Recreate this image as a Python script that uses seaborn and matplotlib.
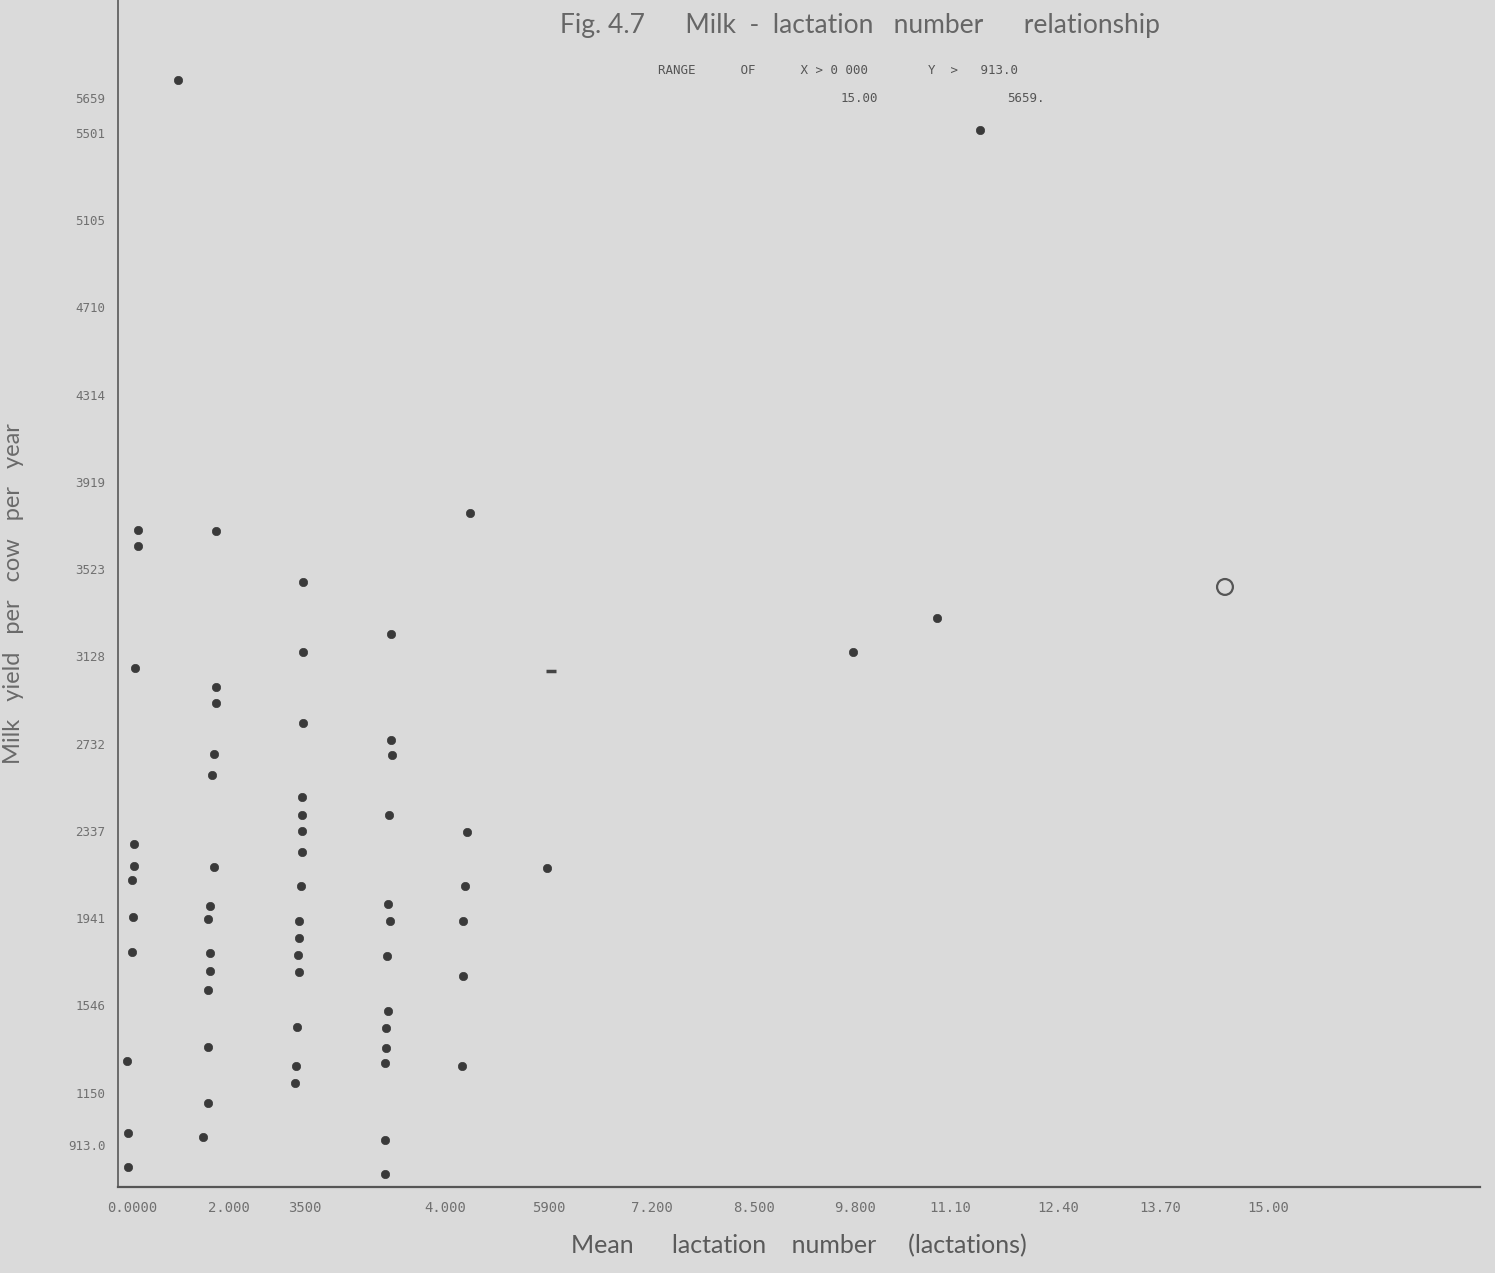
import pandas as pd
import numpy as np
import matplotlib
matplotlib.use('Agg')
import matplotlib.pyplot as plt
import seaborn as sns

sns.set_theme(style='white')
plt.rcParams['font.family'] = ['Lato', 'DejaVu Sans']

# ---- data ----
lact_col1 = [0.72, 0.72, 0.68, 0.67, 0.67, 0.64, 0.66, 0.64, 0.58, 0.59, 0.59]
milk_col1 = [3701, 3629, 3076, 2278, 2178, 2115, 1947, 1788, 1294, 967, 813]

lact_col2 = [1.70, 1.70, 1.70, 1.68, 1.65, 1.68, 1.63, 1.60, 1.63, 1.63, 1.60, 1.60, 1.60, 1.54]
milk_col2 = [3697, 2990, 2917, 2686, 2591, 2173, 1997, 1938, 1784, 1702, 1616, 1357, 1103, 949]

lact_col3 = [2.80, 2.80, 2.80, 2.79, 2.79, 2.79, 2.79, 2.78, 2.75, 2.75, 2.74, 2.75, 2.73, 2.71, 2.70]
milk_col3 = [3466, 3148, 2826, 2491, 2409, 2337, 2241, 2087, 1929, 1852, 1774, 1697, 1448, 1271, 1194]

lact_col4 = [3.91, 3.91, 3.93, 3.89, 3.88, 3.90, 3.86, 3.88, 3.85, 3.85, 3.84, 3.84, 3.83]
milk_col4 = [3230, 2749, 2681, 2409, 2006, 1929, 1770, 1521, 1443, 1353, 1285, 936, 782]

lact_col5 = [4.91, 4.87, 4.84, 4.82, 4.82, 4.81]
milk_col5 = [3779, 2332, 2087, 1929, 1679, 1271]

lact_rest = [5.88, 9.75, 10.80, 11.35, 1.22]
milk_rest = [2169, 3148, 3302, 5515, 5742]

# odd marks: dash at ~5.9 and the open circle
dash_x, dash_y = [5.93], [3062]
circle_x, circle_y = [14.44], [3443]

x_ticks = [0.64, 1.86, 2.83, 4.60, 5.90, 7.20, 8.50, 9.77, 10.97, 12.33, 13.62, 14.99]
x_labels = ['0.0000', '2.000', '3500', '4.000', '5900', '7.200', '8.500',
            '9.800', '11.10', '12.40', '13.70', '15.00']
y_ticks = [913, 1150, 1546, 1941, 2337, 2732, 3128, 3523, 3919, 4314, 4710, 5105, 5501, 5659]
y_labels = ['913.0', '1150', '1546', '1941', '2337', '2732', '3128', '3523',
            '3919', '4314', '4710', '5105', '5501', '5659']

df = pd.DataFrame({
    'lact': lact_col1 + lact_col2 + lact_col3 + lact_col4 + lact_col5 + lact_rest,
    'milk': milk_col1 + milk_col2 + milk_col3 + milk_col4 + milk_col5 + milk_rest,
})

# ---- figure ----
bg = '#dadada'
fig = plt.figure(figsize=(14.95, 12.73), dpi=100, facecolor=bg)
ax = fig.add_axes([0.079, 0.0676, 0.911, 0.9324])
ax.set_facecolor(bg)

sns.scatterplot(data=df, x='lact', y='milk', ax=ax, s=36, color='#3a3a3a',
                edgecolor='#3a3a3a', linewidth=0.5)
ax.scatter(dash_x, dash_y, marker='_', s=60, color='#444444', linewidths=2.5)
ax.scatter(circle_x, circle_y, s=130, facecolors='none', edgecolors='#555555', linewidths=1.6)

ax.set_xlim(0.467, 17.66)
ax.set_ylim(723, 6104)

for side in ['top', 'right']:
    ax.spines[side].set_visible(False)
ax.spines['left'].set_color('#6a6a6a')
ax.spines['left'].set_linewidth(1.4)
ax.spines['bottom'].set_color('#555555')
ax.spines['bottom'].set_linewidth(1.6)

ax.set_xticks(x_ticks, x_labels)
ax.set_yticks(y_ticks, y_labels)
ax.tick_params(axis='x', direction='in', length=4, width=1, colors='#666666',
               labelsize=10, pad=10, labelcolor='#707070')
ax.tick_params(axis='y', direction='out', length=6, width=1, colors='#666666',
               labelsize=9, pad=3, labelcolor='#707070')
for lbl in ax.get_xticklabels() + ax.get_yticklabels():
    lbl.set_family(['DejaVu Sans Mono', 'DejaVu Sans'])

ax.set_xlabel('Mean      lactation    number     (lactations)', fontsize=18,
              color='#5a5a5a', labelpad=14)
ax.set_ylabel('Milk   yield   per   cow   per   year', fontsize=17,
              color='#6a6a6a', labelpad=32)

fig.text(0.575, 0.99, 'Fig. 4.7      Milk  -  lactation   number      relationship',
         ha='center', va='top', fontsize=19, color='#666666')
fig.text(0.44, 0.945, 'RANGE      OF      X > 0 000        Y  >   913.0',
         ha='left', va='center', fontsize=9, color='#555555',
         family=['DejaVu Sans Mono', 'DejaVu Sans'])
fig.text(0.575, 0.923, '15.00', ha='center', va='center', fontsize=9,
         color='#555555', family=['DejaVu Sans Mono', 'DejaVu Sans'])
fig.text(0.686, 0.923, '5659.', ha='center', va='center', fontsize=9,
         color='#555555', family=['DejaVu Sans Mono', 'DejaVu Sans'])

fig.savefig('out.png', dpi=100, facecolor=bg)
